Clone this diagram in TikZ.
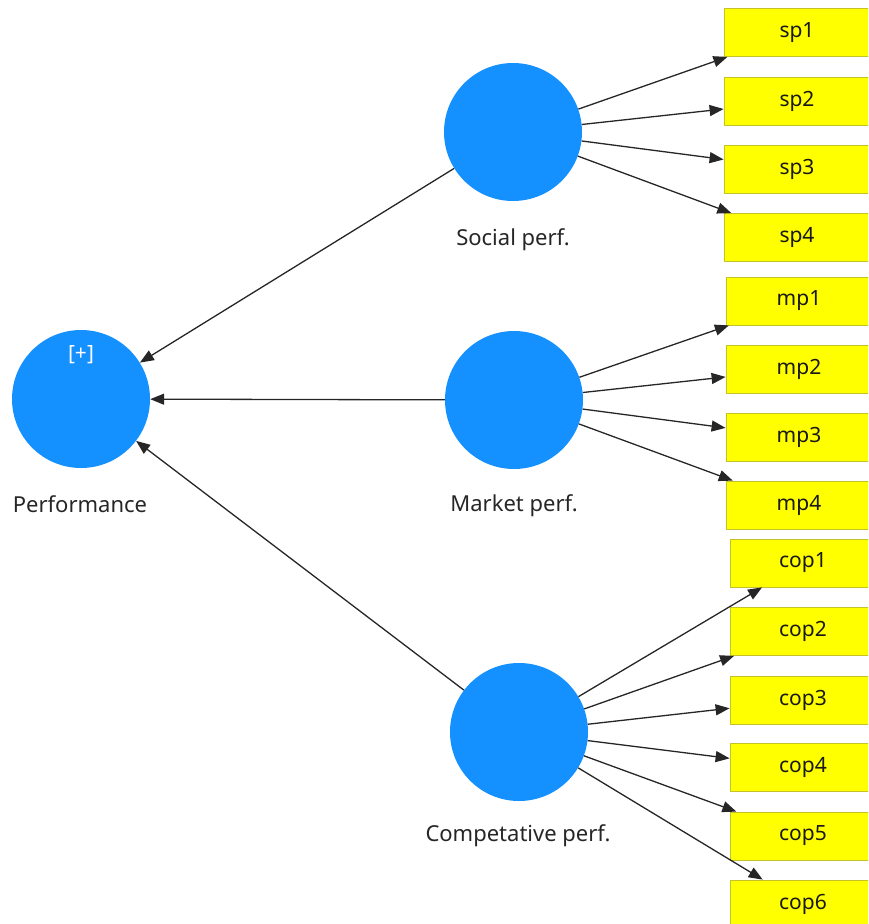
\documentclass[tikz,border=0pt]{standalone}
\usepackage{fontspec}
\setmainfont{Noto Sans}
\usetikzlibrary{arrows.meta}
\definecolor{lvblue}{RGB}{20,144,255}
\definecolor{indyellow}{RGB}{255,255,0}
\definecolor{indborder}{RGB}{196,196,40}
\begin{document}
\begin{tikzpicture}[x=1pt,y=-1pt,
  lv/.style={circle, fill=lvblue, draw=none, minimum size=138pt, inner sep=0pt},
  ind/.style={rectangle, fill=indyellow, draw=indborder, line width=0.8pt,
    minimum width=146pt, minimum height=48pt, inner sep=0pt,
    font=\fontsize{21}{25}\selectfont, text=black!90},
  lab/.style={font=\fontsize{22}{26}\selectfont, text=black!85},
  arr/.style={-{Triangle[length=14pt,width=11pt]}, line width=1.3pt, draw=black!85}]
\useasboundingbox (0,0) rectangle (868,924);
\clip (0,0) rectangle (868,924);

% latent variables
\node[lv] (perf) at (81,399) {};
\node[lv] (soc) at (513,132) {};
\node[lv] (mkt) at (514,400) {};
\node[lv] (comp) at (519,732) {};

\node[font=\fontsize{21}{24}\selectfont, text=white] (plus) at (81,355) {[+]};

\node[lab] (perflab) at (80,504) {Performance};
\node[lab] (soclab) at (513,240) {Social perf.};
\node[lab] (mktlab) at (514,506) {Market perf.};
\node[lab] (complab) at (518,836) {Competative perf.};

% indicators
\node[ind] (sp1) at (797,32.5) {sp1};
\node[ind] (sp2) at (797,101) {sp2};
\node[ind] (sp3) at (797,169) {sp3};
\node[ind] (sp4) at (797,237.5) {sp4};

\node[ind] (mp1) at (799,301) {mp1};
\node[ind] (mp2) at (799,369) {mp2};
\node[ind] (mp3) at (799,437.5) {mp3};
\node[ind] (mp4) at (799,505) {mp4};

\node[ind] (cop1) at (803,563) {cop1};
\node[ind] (cop2) at (803,631.5) {cop2};
\node[ind] (cop3) at (803,700) {cop3};
\node[ind] (cop4) at (803,767.5) {cop4};
\node[ind] (cop5) at (803,836) {cop5};
\node[ind] (cop6) at (803,904) {cop6};

% structural paths
\draw[arr] (soc) -- (perf);
\draw[arr] (mkt) -- (perf);
\draw[arr] (comp) -- (perf);

% measurement paths
\foreach \i in {1,...,4} \draw[arr] (soc) -- (sp\i);
\foreach \i in {1,...,4} \draw[arr] (mkt) -- (mp\i);
\foreach \i in {1,...,6} \draw[arr] (comp) -- (cop\i);
\end{tikzpicture}
\end{document}
